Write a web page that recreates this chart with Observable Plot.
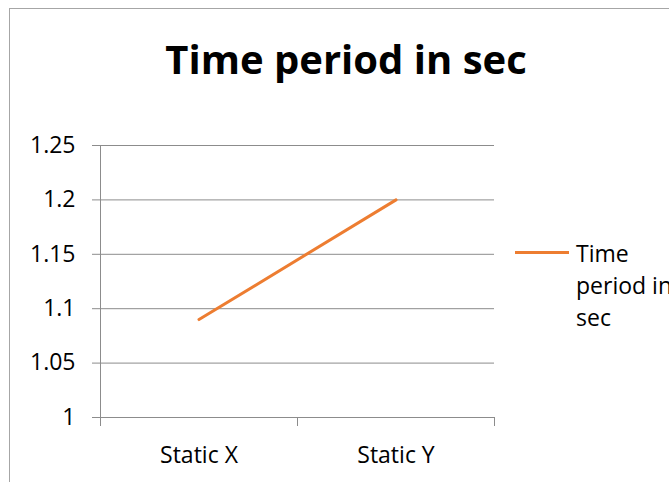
<!DOCTYPE html>
<html>
<head>
<meta charset="utf-8">
<script src="https://cdn.jsdelivr.net/npm/d3@7"></script>
<script src="https://cdn.jsdelivr.net/npm/@observablehq/plot@0.6"></script>
<style>
  html, body { margin: 0; padding: 0; background: #fff; }
  #wrap { position: relative; width: 669px; height: 482px; overflow: hidden; font-family: "Open Sans", sans-serif; }
  #frame { position: absolute; left: 9px; top: 8px; width: 700px; height: 520px; border: 1px solid #a6a6a6; box-sizing: border-box; pointer-events: none; }
  #title { position: absolute; left: 0; width: 692px; top: 29px; text-align: center; font-weight: 700; font-size: 40px; line-height: 60px; color: #000; }
  #legend { position: absolute; left: 515px; top: 237px; display: flex; align-items: flex-start; }
  #legend .swatch { width: 54px; height: 3px; background: #ed7d31; margin-top: 14px; }
  #legend .label { margin-left: 7px; font-size: 23px; line-height: 32px; color: #000; width: 100px; }
  #chart { position: absolute; left: 0; top: 0; }
</style>
</head>
<body>
<div id="wrap">
  <div id="chart"></div>
  <div id="frame"></div>
  <div id="title"></div>
  <div id="legend"><div class="swatch"></div><div class="label"></div></div>
</div>
<script>
const title = "Time period in sec";
const seriesName = "Time period in sec";
const categories = ["Static X", "Static Y"];
const values = [1.09, 1.2];
const yTicks = [1, 1.05, 1.1, 1.15, 1.2, 1.25];

const data = categories.map((c, i) => ({index: i, category: c, value: values[i]}));
// category boundaries, where the x axis carries its tick marks
const bounds = d3.range(categories.length + 1).map(i => i - 0.5);

document.getElementById("title").textContent = title;
document.querySelector("#legend .label").textContent = seriesName;

const gray = "#8c8c8c";
const chart = Plot.plot({
  width: 669,
  height: 482,
  marginLeft: 100,
  marginRight: 175,
  marginTop: 145,
  marginBottom: 65,
  style: {fontFamily: "Open Sans, sans-serif", fontSize: "23px", color: "#000", background: "transparent"},
  x: {domain: [-0.5, categories.length - 0.5]},
  y: {domain: [1, 1.25]},
  marks: [
    Plot.gridY(yTicks, {stroke: gray, strokeOpacity: 1}),
    Plot.ruleX([bounds[0]], {stroke: gray}),
    Plot.axisY(yTicks, {tickSize: 8, tickPadding: 17, stroke: gray, fill: "#000", tickFormat: d => String(+d.toFixed(2)), label: null}),
    Plot.axisX(bounds, {tickSize: 9, stroke: gray, tickFormat: () => "", label: null}),
    Plot.axisX(data.map(d => d.index), {tickSize: 0, tickPadding: 29, fill: "#000", tickFormat: i => categories[i], label: null}),
    Plot.line(data, {x: "index", y: "value", stroke: "#ed7d31", strokeWidth: 3})
  ]
});
document.getElementById("chart").append(chart);
</script>
</body>
</html>
